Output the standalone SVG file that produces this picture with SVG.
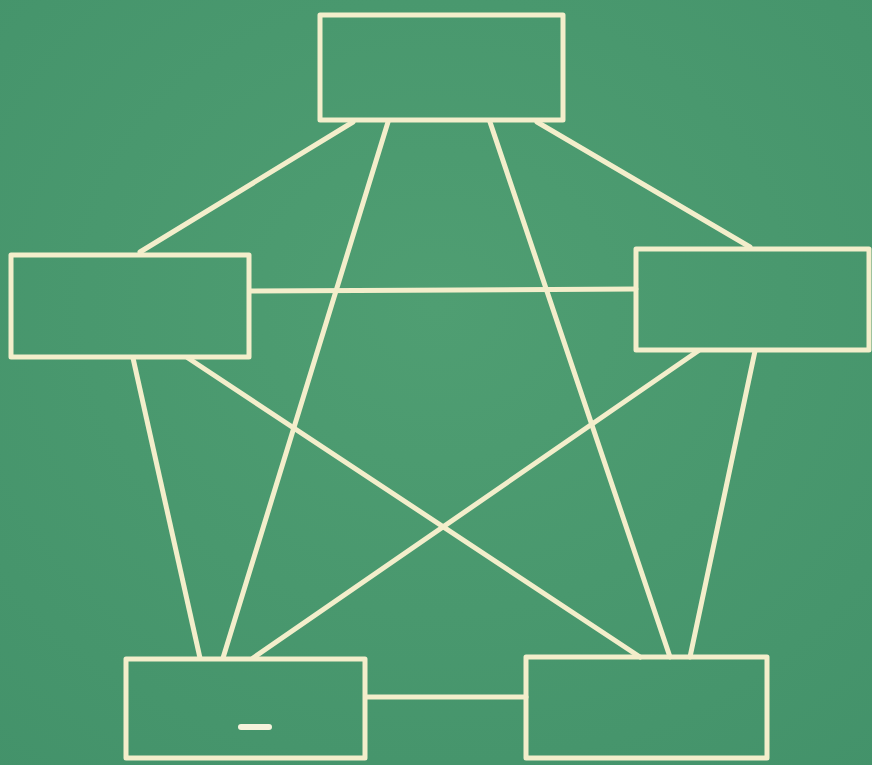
<svg xmlns="http://www.w3.org/2000/svg" width="872" height="765" viewBox="0 0 872 765">
<style>
.box{fill:none;stroke:#f3eecb;stroke-width:5;stroke-linejoin:round}
.edge{stroke:#f3eecb;stroke-width:5;stroke-linecap:round}
</style>
<defs>
<radialGradient id="bg" cx="0.5" cy="0.4" r="0.8">
<stop offset="0" stop-color="#4f9e72"/>
<stop offset="1" stop-color="#43926a"/>
</radialGradient>
</defs>
<rect width="872" height="765" fill="url(#bg)"/>
<g id="connectors">
<line class="edge" x1="353" y1="122" x2="140" y2="252"/>
<line class="edge" x1="537" y1="122" x2="750" y2="247"/>
<line class="edge" x1="388" y1="122" x2="223" y2="658"/>
<line class="edge" x1="490" y1="122" x2="670" y2="657"/>
<line class="edge" x1="250" y1="291" x2="636" y2="289"/>
<line class="edge" x1="133" y1="358" x2="200" y2="658"/>
<line class="edge" x1="188" y1="358" x2="640" y2="657"/>
<line class="edge" x1="698" y1="351" x2="253" y2="658"/>
<line class="edge" x1="755" y1="351" x2="690" y2="657"/>
<line class="edge" x1="366" y1="697" x2="526" y2="697"/>
</g>
<g id="node-top"><rect class="box" x="320" y="15" width="243" height="105"/></g>
<g id="node-left"><rect class="box" x="11" y="255" width="238" height="102"/></g>
<g id="node-right"><rect class="box" x="636" y="249" width="233" height="101"/></g>
<g id="node-bottom-left"><rect class="box" x="126" y="659" width="239" height="99"/>
<rect x="238" y="724" width="34" height="6" rx="3" fill="#f6f3dc"/></g>
<g id="node-bottom-right"><rect class="box" x="526" y="657" width="241" height="101"/></g>
</svg>
